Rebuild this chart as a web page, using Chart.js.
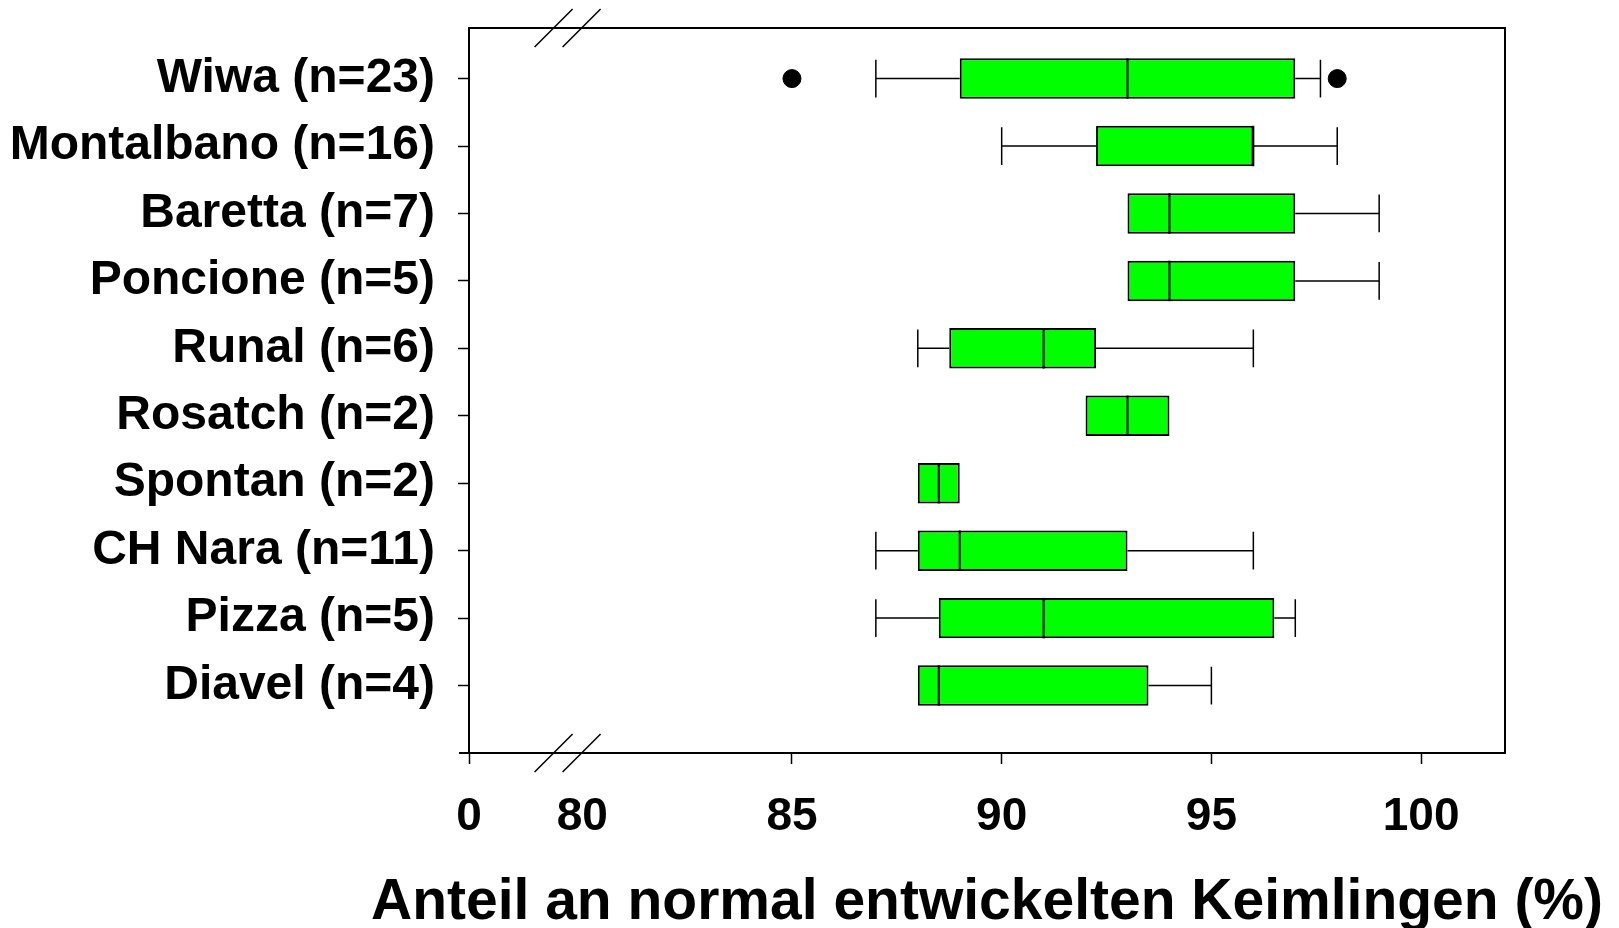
<!DOCTYPE html>
<html>
<head>
<meta charset="utf-8">
<script src="https://cdn.jsdelivr.net/npm/chart.js@4/dist/chart.umd.min.js"></script>
<style>
  html, body { margin: 0; padding: 0; background: #fff; }
  #wrap { width: 1619px; height: 928px; }
</style>
</head>
<body>
<div id="wrap"><canvas id="chart" width="1619" height="928"></canvas></div>
<script>
// data
const categories = ["Wiwa (n=23)", "Montalbano (n=16)", "Baretta (n=7)", "Poncione (n=5)", "Runal (n=6)",
  "Rosatch (n=2)", "Spontan (n=2)", "CH Nara (n=11)", "Pizza (n=5)", "Diavel (n=4)"];
const mins    = [87, 90, 93, 93, 88, 92, 88, 87, 87, 88];
const q1s     = [89, 92.25, 93, 93, 88.75, 92, 88, 88, 88.5, 88];
const medians = [93, 96, 94, 94, 91, 93, 88.5, 89, 91, 88.5];
const q3s     = [97, 96, 97, 97, 92.25, 94, 89, 93, 96.5, 93.5];
const maxs    = [97.6, 98, 99, 99, 96, 94, 89, 96, 97, 95];
const outlierVals = [85, 98];
const outlierCats = [0, 0];
const xTickVals   = [0, 80, 85, 90, 95, 100];
const xTickLabels = ["0", "80", "85", "90", "95", "100"];
const xTitle = "Anteil an normal entwickelten Keimlingen (%)";

// broken axis: the "0" tick sits at the left edge, the axis really starts near 77.3
const axisStart = 77.3;
const axisEnd = 102;
const breakAt = 79.65;

const FONT = "'Liberation Sans', Arial, Helvetica, sans-serif";

const boxPlugin = {
  id: "boxExtras",
  afterDatasetsDraw(chart) {
    const { ctx, chartArea, scales: { x, y } } = chart;
    ctx.save();
    ctx.strokeStyle = "#000";
    ctx.lineWidth = 1.5;
    categories.forEach((c, i) => {
      const yc = y.getPixelForValue(i + 1);
      const capTop = y.getPixelForValue(i + 1 - 0.28);
      const capBot = y.getPixelForValue(i + 1 + 0.28);
      const boxTop = y.getPixelForValue(i + 1 - 0.3);
      const boxBot = y.getPixelForValue(i + 1 + 0.3);
      ctx.beginPath();
      if (mins[i] < q1s[i]) {
        ctx.moveTo(x.getPixelForValue(mins[i]), yc);
        ctx.lineTo(x.getPixelForValue(q1s[i]), yc);
        ctx.moveTo(x.getPixelForValue(mins[i]), capTop);
        ctx.lineTo(x.getPixelForValue(mins[i]), capBot);
      }
      if (maxs[i] > q3s[i]) {
        ctx.moveTo(x.getPixelForValue(q3s[i]), yc);
        ctx.lineTo(x.getPixelForValue(maxs[i]), yc);
        ctx.moveTo(x.getPixelForValue(maxs[i]), capTop);
        ctx.lineTo(x.getPixelForValue(maxs[i]), capBot);
      }
      ctx.stroke();
      ctx.beginPath();
      ctx.lineWidth = 2;
      ctx.moveTo(x.getPixelForValue(medians[i]), boxTop);
      ctx.lineTo(x.getPixelForValue(medians[i]), boxBot);
      ctx.stroke();
      ctx.lineWidth = 1.5;
    });

    // frame top + right, and the little stub of the x axis left of the frame
    ctx.lineWidth = 2;
    ctx.beginPath();
    ctx.moveTo(chartArea.left, chartArea.top);
    ctx.lineTo(chartArea.right, chartArea.top);
    ctx.lineTo(chartArea.right, chartArea.bottom);
    ctx.moveTo(chartArea.left - 10, chartArea.bottom);
    ctx.lineTo(chartArea.left, chartArea.bottom);
    ctx.stroke();

    // axis break marks
    ctx.lineWidth = 1.5;
    const bx = x.getPixelForValue(breakAt);
    [chartArea.top, chartArea.bottom].forEach(by => {
      [-14, 14].forEach(dx => {
        ctx.beginPath();
        ctx.moveTo(bx + dx - 19, by + 19);
        ctx.lineTo(bx + dx + 19, by - 19);
        ctx.stroke();
      });
    });

    // axis title is wider than the plot, so draw it here instead of the scale title (which squeezes it)
    ctx.fillStyle = "#000";
    ctx.font = "bold 57px " + FONT;
    ctx.textAlign = "center";
    ctx.textBaseline = "alphabetic";
    ctx.fillText(xTitle, (chartArea.left + chartArea.right) / 2, 919);
    ctx.restore();
  }
};

new Chart(document.getElementById("chart"), {
  type: "bar",
  data: {
    datasets: [
      {
        type: "bar",
        data: categories.map((c, i) => ({ x: [q1s[i], q3s[i]], y: i + 1 })),
        backgroundColor: "#00ff00",
        borderColor: "#000",
        borderWidth: 2,
        borderSkipped: false,
        categoryPercentage: 0.6,
        barPercentage: 1,
      },
      {
        type: "scatter",
        data: outlierVals.map((v, i) => ({ x: v, y: outlierCats[i] + 1 })),
        backgroundColor: "#000",
        borderColor: "#000",
        pointRadius: 9,
      },
    ],
  },
  plugins: [boxPlugin],
  options: {
    indexAxis: "y",
    responsive: false,
    animation: false,
    layout: { padding: { top: 28, right: 114, left: 0, bottom: 0 } },
    plugins: { legend: { display: false }, tooltip: { enabled: false } },
    scales: {
      x: {
        type: "linear",
        min: axisStart,
        max: axisEnd,
        afterBuildTicks: (scale) => {
          scale.ticks = xTickVals.map((v, i) => ({ value: i === 0 ? axisStart : v }));
        },
        afterFit: (scale) => { scale.height = 175; },
        ticks: {
          autoSkip: false,
          maxRotation: 0,
          padding: 26,
          color: "#000",
          font: { family: FONT, size: 46, weight: "bold" },
          callback: (v, i) => xTickLabels[i],
        },
        grid: {
          drawOnChartArea: false,
          tickLength: 11,
          tickWidth: 1.5,
          tickColor: (ctx) => (ctx.tick && ctx.tick.value === 80 ? "rgba(0,0,0,0)" : "#000"),
        },
        border: { display: true, color: "#000", width: 2 },
      },
      y: {
        type: "linear",
        reverse: true,
        offset: false,
        min: 0.25,
        max: 11,
        afterBuildTicks: (scale) => {
          scale.ticks = categories.map((c, i) => ({ value: i + 1 }));
        },
        afterFit: (scale) => {
          scale.width = 469;
          // labels sit well inside the range, no need to reserve room above/below
          scale.paddingTop = 0;
          scale.paddingBottom = 0;
        },
        ticks: {
          autoSkip: false,
          padding: 23,
          color: "#000",
          font: { family: FONT, size: 48, weight: "bold" },
          callback: (v) => categories[v - 1],
        },
        grid: {
          offset: false,
          drawOnChartArea: false,
          tickLength: 11,
          tickWidth: 1.5,
          tickColor: "#000",
        },
        border: { display: true, color: "#000", width: 2 },
      },
    },
  },
});
</script>
</body>
</html>
